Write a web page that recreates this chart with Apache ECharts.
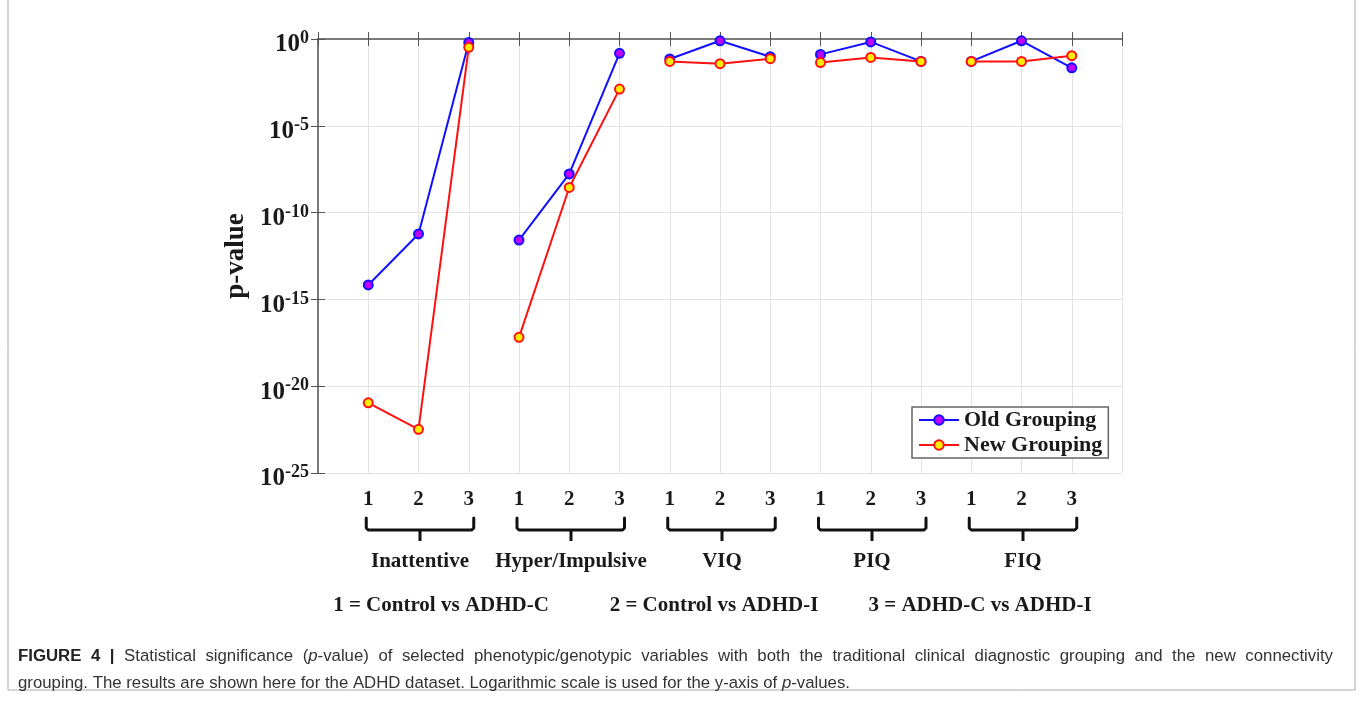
<!DOCTYPE html>
<html>
<head>
<meta charset="utf-8">
<script src="https://cdn.jsdelivr.net/npm/echarts@6/dist/echarts.min.js"></script>
<style>
html, body { margin: 0; padding: 0; background: #fff; }
#main { width: 1363px; height: 703px; }
</style>
</head>
<body>
<div id="main"></div>
<script>
// groups along the x axis, each with three comparisons
var groups = ['Inattentive', 'Hyper/Impulsive', 'VIQ', 'PIQ', 'FIQ']
var comparisons = ['1', '2', '3']
var keyTexts = ['1 = Control vs ADHD-C', '2 = Control vs ADHD-I', '3 = ADHD-C vs ADHD-I']

// p-values (3 per group)
var oldGrouping = [
    6.8e-15, 5.9e-12, 0.62,
    2.6e-12, 1.7e-8, 0.15,
    0.071, 0.79, 0.095,
    0.13, 0.68, 0.051,
    0.051, 0.79, 0.022
]
var newGrouping = [
    1.1e-21, 3.3e-23, 0.33,
    6.5e-18, 2.8e-9, 1.3e-3,
    0.051, 0.038, 0.074,
    0.044, 0.087, 0.051,
    0.051, 0.051, 0.11
]

var caption1 = 'FIGURE 4 | Statistical significance (p-value) of selected phenotypic/genotypic variables with both the traditional clinical diagnostic grouping and the new connectivity'
var caption2 = 'grouping. The results are shown here for the ADHD dataset. Logarithmic scale is used for the y-axis of p-values.'

var serif = 'Liberation Serif'
var chart = echarts.init(document.getElementById('main'))

// y axis is drawn in decades (log10 of p)
function groupData(vals, g) {
    var out = []
    for (var k = 0; k < 3; k++) out.push([g * 3 + k + 1, Math.log10(vals[g * 3 + k])])
    return out
}

var series = []
groups.forEach(function (name, g) {
    series.push({
        name: 'Old Grouping', type: 'line', data: groupData(oldGrouping, g),
        symbol: 'circle', symbolSize: 9,
        lineStyle: { color: '#1010ff', width: 2 },
        itemStyle: { color: '#c000ff', borderColor: '#1010ff', borderWidth: 2 },
        z: 2, animation: false
    })
})
groups.forEach(function (name, g) {
    series.push({
        name: 'New Grouping', type: 'line', data: groupData(newGrouping, g),
        symbol: 'circle', symbolSize: 9,
        lineStyle: { color: '#ff1010', width: 2 },
        itemStyle: { color: '#ffee00', borderColor: '#ff1010', borderWidth: 2 },
        z: 3, animation: false
    })
})

var axisLine = { show: true, lineStyle: { color: '#7a7a7a', width: 2 } }
var tick = { show: true, inside: true, length: 7, lineStyle: { color: '#555', width: 1 } }

var option = {
    animation: false,
    grid: { left: 318, top: 39, width: 804, height: 434 },
    legend: {
        data: ['Old Grouping', 'New Grouping'],
        orient: 'vertical',
        left: 912, top: 407,
        itemWidth: 40, itemHeight: 12, itemGap: 3,
        padding: [2, 6, 2, 6],
        backgroundColor: '#fff',
        borderColor: '#666', borderWidth: 1.5,
        textStyle: { fontFamily: serif, fontWeight: 'bold', fontSize: 22, color: '#1a1a1a', lineHeight: 22 }
    },
    xAxis: [{
        type: 'value', min: 0, max: 16, interval: 1,
        axisLine: axisLine, axisTick: tick,
        axisLabel: {
            margin: 16, fontFamily: serif, fontWeight: 'bold', fontSize: 21, color: '#1a1a1a',
            formatter: function (v) { return (v >= 1 && v <= 15) ? comparisons[(v - 1) % 3] : '' }
        },
        splitLine: { show: true, lineStyle: { color: '#e3e3e3', width: 1 } }
    }, {
        type: 'value', min: 0, max: 16, interval: 1, position: 'top',
        axisLine: axisLine, axisTick: tick, axisLabel: { show: false }, splitLine: { show: false }
    }],
    yAxis: [{
        type: 'value', min: -25, max: 0, interval: 5,
        name: 'p-value', nameLocation: 'middle', nameGap: 57, nameRotate: 90,
        nameTextStyle: { fontFamily: serif, fontWeight: 'bold', fontSize: 27, color: '#1a1a1a' },
        axisLine: axisLine, axisTick: tick,
        axisLabel: {
            margin: 9,
            padding: [9, 0, 0, 0],
            formatter: function (v) { return '{b|10}{s|' + v + '}' },
            rich: {
                b: { fontFamily: serif, fontWeight: 'bold', fontSize: 25, color: '#1a1a1a', lineHeight: 28, verticalAlign: 'bottom' },
                s: { fontFamily: serif, fontWeight: 'bold', fontSize: 18, color: '#1a1a1a', lineHeight: 28, verticalAlign: 'top' }
            }
        },
        splitLine: { show: true, lineStyle: { color: '#e3e3e3', width: 1 } }
    }, {
        type: 'value', min: -25, max: 0, interval: 5, position: 'right',
        axisLine: axisLine, axisTick: tick, axisLabel: { show: false }, splitLine: { show: false }
    }],
    series: series
}
chart.setOption(option)

// brackets, group names, key and caption under the plot
var graphics = []
groups.forEach(function (name, g) {
    var x1 = chart.convertToPixel({ xAxisIndex: 0 }, g * 3 + 1) - 2
    var x2 = chart.convertToPixel({ xAxisIndex: 0 }, g * 3 + 3) + 5
    var xc = Math.round((x1 + x2) / 2)
    graphics.push({
        type: 'polyline',
        shape: { points: [[x1, 518], [x1, 528], [x1 + 2, 530], [x2 - 2, 530], [x2, 528], [x2, 518]] },
        style: { stroke: '#111', lineWidth: 3, fill: null, lineJoin: 'round', lineCap: 'round' }
    })
    graphics.push({
        type: 'line',
        shape: { x1: xc, y1: 530, x2: xc, y2: 541 },
        style: { stroke: '#111', lineWidth: 3 }
    })
    graphics.push({
        type: 'text', x: xc, y: 562,
        style: { text: name, align: 'center', verticalAlign: 'middle', font: 'bold 21px ' + serif, fill: '#1a1a1a' }
    })
})
var keyX = [441, 714, 980]
keyTexts.forEach(function (t, i) {
    graphics.push({
        type: 'text', x: keyX[i], y: 606,
        style: { text: t, align: 'center', verticalAlign: 'middle', font: 'bold 21px ' + serif, fill: '#1a1a1a' }
    })
})
// figure frame
graphics.push({
    type: 'rect', shape: { x: 8, y: -2, width: 1347, height: 692 },
    style: { stroke: '#aaa', lineWidth: 1, fill: null }
})

// caption: first line justified, second line left aligned
var fonts = {
    b: 'bold 16.8px "Liberation Sans"',
    n: '16.8px "Liberation Sans"',
    i: 'italic 16.8px "Liberation Sans"'
}
var rich = {
    b: { font: fonts.b, fill: '#222' },
    n: { font: fonts.n, fill: '#333' },
    i: { font: fonts.i, fill: '#333' }
}
var ctx = document.createElement('canvas').getContext('2d')
function fragsOf(word, bold) {
    if (bold) return [['b', word]]
    if (word.indexOf('(p-') === 0) return [['n', '('], ['i', 'p'], ['n', word.slice(2)]]
    if (word.indexOf('p-values') === 0) return [['i', 'p'], ['n', word.slice(1)]]
    return [['n', word]]
}
function widthOf(frags) {
    var w = 0
    frags.forEach(function (f) { ctx.font = fonts[f[0]]; w += ctx.measureText(f[1]).width })
    return w
}
function richOf(frags) {
    return frags.map(function (f) { return '{' + f[0] + '|' + f[1] + '}' }).join('')
}
var words1 = caption1.split(' ')
var list1 = words1.map(function (w, i) { return fragsOf(w, i < 3) })
var total1 = 0
list1.forEach(function (f) { total1 += widthOf(f) })
var gap1 = (1333 - 18 - total1) / (list1.length - 1)
var cx = 18
list1.forEach(function (f) {
    graphics.push({
        type: 'text', x: cx, y: 656,
        style: { text: richOf(f), verticalAlign: 'middle', rich: rich }
    })
    cx += widthOf(f) + gap1
})
var list2 = caption2.split(' ').map(function (w) { return fragsOf(w, false) })
graphics.push({
    type: 'text', x: 18, y: 683,
    style: {
        text: list2.map(richOf).join('{n| }'),
        verticalAlign: 'middle', rich: rich
    }
})
chart.setOption({ graphic: graphics })
</script>
</body>
</html>
